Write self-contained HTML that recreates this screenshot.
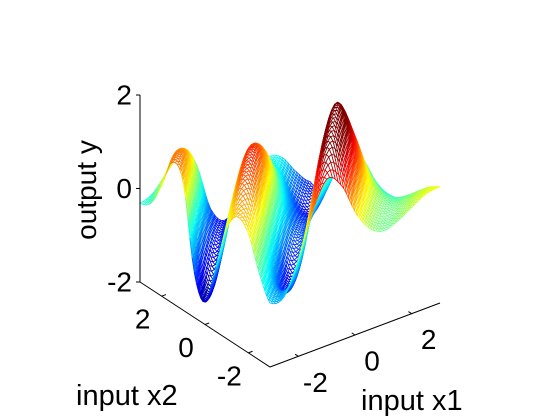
<!DOCTYPE html>
<html><head><meta charset="utf-8"><style>
html,body{margin:0;padding:0;background:#fff;}
svg{display:block;font-family:"Liberation Sans",Arial,sans-serif;}
</style></head><body>
<svg id="chart" width="560" height="420" viewBox="0 0 560 420" xmlns="http://www.w3.org/2000/svg">
<g id="surface"></g>
<g id="axes" stroke="#000" stroke-width="1" fill="none"></g>
<g id="labels" font-size="28" fill="#000"></g>
<text transform="translate(96,190) rotate(-90)" text-anchor="middle" font-size="28">output y</text>
<text x="76" y="405" font-size="29">input x2</text>
<text x="361" y="410" font-size="29">input x1</text>
</svg>
<script>
// profile of the surface along t = x1 - x2 (knots every 0.5 from -6 to 6)
const tKnots = [-6,-5.5,-5,-4.5,-4,-3.5,-3,-2.5,-2,-1.5,-1,-0.5,0,0.5,1,1.5,2,2.5,3,3.5,4,4.5,5,5.5,6];
const tProfile = [-0.4,-0.2,0.4,1.1,0.8,-1.2,-1.9,-0.9,0.6,1.4,1.1,-0.3,-1.4,-1.3,0.1,1.8,2.6,1.9,0.8,0.2,0.0,0.1,0.3,0.5,0.6];
// envelope and offset along s = x1 + x2
const sKnots = [-6,-5,-4,-3,-2,-1,0,1,2,3,4,5,6];
const sEnvelope = [0.45,0.5,0.6,0.8,0.9,0.92,0.8,0.65,0.5,0.4,0.35,0.3,0.3];
const sOffset = [0,0,0,0,0,0,0,-0.1,-0.35,-0.6,-0.8,-0.8,-0.8];
const colorLimits = [-1.8, 1.9];
const zTicks = [2,0,-2];
const x1Ticks = [-2,0,2];
const x2Ticks = [-2,0,2];
const range = [-3,3];

const NS='http://www.w3.org/2000/svg';
function P(x1,x2,z){return [290+28.33*x1-21.67*x2, 199-10.67*x1-14.17*x2-46.75*z];}
function cr(kn,vals,x){
  const h=kn[1]-kn[0];let f=(x-kn[0])/h;let i=Math.floor(f);
  i=Math.max(0,Math.min(kn.length-2,i));const u=f-i;
  const g=k=>vals[Math.max(0,Math.min(vals.length-1,k))];
  const p0=g(i-1),p1=g(i),p2=g(i+1),p3=g(i+2);
  return 0.5*((2*p1)+(-p0+p2)*u+(2*p0-5*p1+4*p2-p3)*u*u+(-p0+3*p1-3*p2+p3)*u*u*u);
}
function f(x1,x2){const s=x1+x2;return cr(tKnots,tProfile,x1-x2)*cr(sKnots,sEnvelope,s)+cr(sKnots,sOffset,s);}
function jet(v){v=Math.max(0,Math.min(1,v));const c=a=>Math.round(255*Math.max(0,Math.min(1,1.5-Math.abs(4*v-a))));return `rgb(${c(3)},${c(2)},${c(1)})`;}

const N=61, xs=[];
for(let i=0;i<N;i++)xs.push(range[0]+(range[1]-range[0])*i/(N-1));
const Z=[];
for(let i=0;i<N;i++){Z.push([]);for(let j=0;j<N;j++){Z[i].push(f(xs[i],xs[j]));}}
const zmin=colorLimits[0], zmax=colorLimits[1];
const quads=[];
for(let i=0;i<N-1;i++)for(let j=0;j<N-1;j++){
  const d=10.67*(xs[i]+xs[i+1])/2+14.17*(xs[j]+xs[j+1])/2;
  quads.push([d,i,j]);
}
quads.sort((a,b)=>b[0]-a[0]);
const surf=document.getElementById('surface');
for(const [d,i,j] of quads){
  const pts=[[i,j],[i+1,j],[i+1,j+1],[i,j+1]].map(([a,b])=>P(xs[a],xs[b],Z[a][b]).map(v=>v.toFixed(1)).join(','));
  const zm=(Z[i][j]+Z[i+1][j]+Z[i+1][j+1]+Z[i][j+1])/4;
  const pg=document.createElementNS(NS,'polygon');
  
  
  pg.setAttribute('points',pts.join(' '));
  pg.setAttribute('fill','#fff');
  pg.setAttribute('stroke',jet((zm-zmin)/(zmax-zmin)));
  pg.setAttribute('stroke-width','0.8');
  surf.appendChild(pg);
}
const ax=document.getElementById('axes'), lb=document.getElementById('labels');
function line(a,b,name){const l=document.createElementNS(NS,'line');
  
  
  l.setAttribute('x1',a[0]);l.setAttribute('y1',a[1]);l.setAttribute('x2',b[0]);l.setAttribute('y2',b[1]);ax.appendChild(l);}
function text(p,s,anchor,name){const t=document.createElementNS(NS,'text');
  
  
  t.setAttribute('x',p[0]);t.setAttribute('y',p[1]);t.setAttribute('text-anchor',anchor);t.setAttribute('dominant-baseline','central');t.textContent=s;lb.appendChild(t);}
line(P(-3,3,-2),P(-3,3,2),'z-axis-line');
line(P(-3,3,-2),P(-3,-3,-2),'x2-axis-line');
line(P(-3,-3,-2),P(3,-3,-2),'x1-axis-line');
for(const z of zTicks){const p=P(-3,3,z);line(p,[p[0]-4,p[1]],'z-tick');text([p[0]-8,p[1]],String(z),'end','z-tick-label');}
for(const v of x2Ticks){const p=P(-3,v,-2);line(p,P(-2.85,v,-2),'x2-tick');text([p[0]-19,p[1]+23],String(v),'middle','x2-tick-label');}
for(const v of x1Ticks){const p=P(v,-3,-2);line(p,P(v,-2.85,-2),'x1-tick');text([p[0]+17,p[1]+26],String(v),'middle','x1-tick-label');}
</script>
</body></html>
